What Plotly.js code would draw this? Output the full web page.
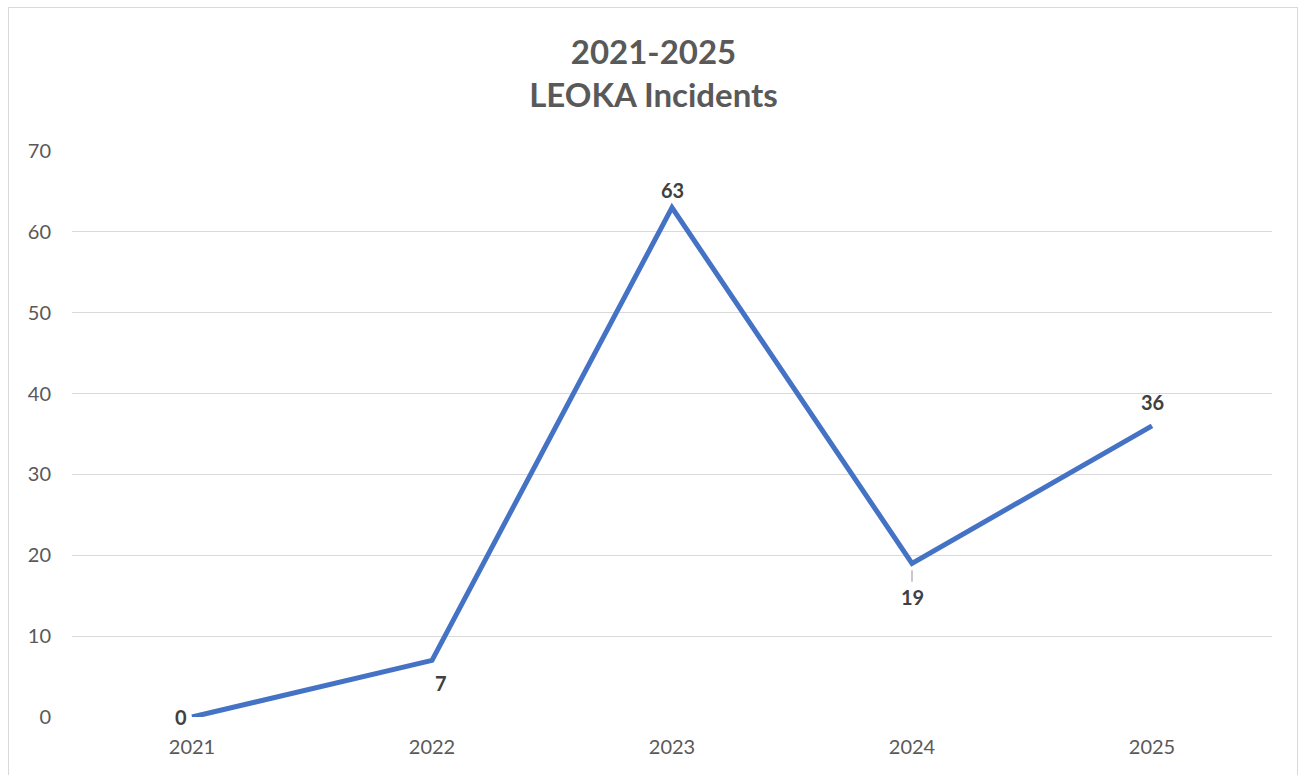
<!DOCTYPE html>
<html>
<head>
<meta charset="utf-8">
<script src="https://cdn.plot.ly/plotly-3.0.1.min.js"></script>
<style>
html,body{margin:0;padding:0;background:#fff;overflow:hidden;}
#frame{position:absolute;left:8px;top:7px;width:1290px;height:800px;border:1.5px solid #d9d9d9;border-bottom:none;box-sizing:border-box;}
#chart{position:absolute;left:0;top:0;width:1301px;height:775px;}
</style>
</head>
<body>
<div id="frame"></div>
<div id="chart"></div>
<script>
const years = ['2021','2022','2023','2024','2025'];
const incidents = [0, 7, 63, 19, 36];
const yTicks = [0,10,20,30,40,50,60,70];

const FONT = 'Lato, "Open Sans", sans-serif';
const labelShift = [
  {xs:-11, ys:0},
  {xs:9, ys:-23},
  {xs:0, ys:18},
  {xs:0, ys:-34},
  {xs:0, ys:24}
];

const annotations = years.map((yr,i)=>({
  x: i, y: incidents[i], xref:'x', yref:'y',
  text: '<b>' + incidents[i] + '</b>',
  showarrow:false, xshift:labelShift[i].xs, yshift:labelShift[i].ys,
  font:{family:FONT, size:20, color:'#404040'}
}));
// leader line for the 2024 label
annotations.push({x:3, y:incidents[3], xref:'x', yref:'y', text:'', showarrow:true,
  ax:0, ay:20, arrowhead:0, arrowwidth:1.2, arrowcolor:'#a6a6a6', standoff:7});

const trace = {
  x: years, y: incidents, type:'scatter', mode:'lines',
  line:{color:'#4472C4', width:5},
  hoverinfo:'skip'
};

const layout = {
  width:1301, height:775,
  margin:{l:72, r:29, t:151, b:58},
  paper_bgcolor:'rgba(0,0,0,0)', plot_bgcolor:'rgba(0,0,0,0)',
  showlegend:false,
  title:{text:'<b>2021-2025</b><br><b>LEOKA Incidents</b>', x:0.5023, xref:'container', xanchor:'center', y:0.917, yref:'container', yanchor:'top',
    font:{family:FONT, size:33, color:'#595959'}},
  xaxis:{type:'category', range:[-0.5,4.5], showgrid:false, zeroline:false, showline:false, ticks:'',
    tickfont:{family:FONT, size:20, color:'#595959'}, ticklabelstandoff:16, fixedrange:true},
  yaxis:{range:[0,70], tickvals:yTicks, showgrid:true, gridcolor:'#d9d9d9', gridwidth:1.2, zeroline:false, showline:false, ticks:'',
    tickfont:{family:FONT, size:20, color:'#595959'}, ticklabelstandoff:20, fixedrange:true},
  annotations: annotations
};

Plotly.newPlot('chart',[trace],layout,{displayModeBar:false, staticPlot:true});
</script>
</body>
</html>
